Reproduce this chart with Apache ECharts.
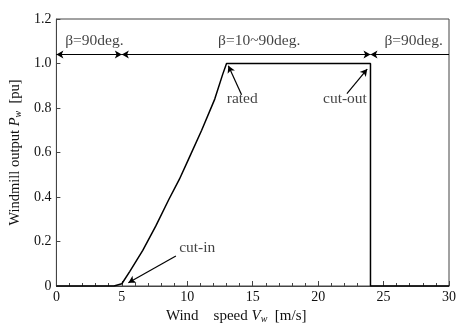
<!DOCTYPE html>
<html>
<head>
<meta charset="utf-8">
<script src="https://cdn.jsdelivr.net/npm/echarts@6/dist/echarts.min.js"></script>
<style>
  html, body { margin: 0; padding: 0; background: #fff; }
  #main { width: 459px; height: 329px; }
</style>
</head>
<body>
<div id="main"></div>
<script>
// power curve of the windmill (wind speed m/s -> output pu)
var windSpeed = [0, 4.4, 5.0, 5.6, 6.6, 7.6, 8.6, 9.4, 10.1, 11.1, 12.1, 12.7, 13.0, 24.0, 24.0, 30];
var powerOut  = [0, 0,   0.01, 0.065, 0.16, 0.27, 0.39, 0.48, 0.57, 0.70, 0.84, 0.95, 1.0, 1.0, 0, 0];

var xTicks = ['0', '5', '10', '15', '20', '25', '30'];
var yTicks = ['0', '0.2', '0.4', '0.6', '0.8', '1.0', '1.2'];

// pitch angle ranges along the top line
var betaLevel = 1.04;
var betaBounds = [0, 5, 24, 30];
var betaNames = ['β=90deg.', 'β=10~90deg.', 'β=90deg.'];
var betaLabelX = [2.9, 15.5, 27.3];
var betaLabelY = 1.1;

// annotations: text spot, arrow tail, arrow tip
var noteNames = ['rated', 'cut-out', 'cut-in'];
var noteText  = [[14.2, 0.84], [22.05, 0.84], [10.76, 0.171]];
var noteTail  = [[14.15, 0.86], [22.2, 0.865], [9.13, 0.135]];
var noteTip   = [[13.14, 0.99], [23.75, 0.975], [5.5, 0.015]];

var font = 'Liberation Serif';

var curveData = [];
for (var i = 0; i < windSpeed.length; i++) {
  curveData.push([windSpeed[i], powerOut[i]]);
}

var arrowLines = [];
for (var i = 0; i < noteNames.length; i++) {
  arrowLines.push([{ coord: noteTail[i], symbol: 'none' }, { coord: noteTip[i], symbol: 'arrow' }]);
}
for (var i = 0; i < betaBounds.length - 1; i++) {
  var last = i == betaBounds.length - 2;
  arrowLines.push([
    { coord: [betaBounds[i], betaLevel], symbol: 'arrow' },
    { coord: [betaBounds[i + 1], betaLevel], symbol: last ? 'none' : 'arrow' }
  ]);
}

var textPoints = [];
for (var i = 0; i < noteNames.length; i++) {
  textPoints.push({ value: noteText[i], name: noteNames[i] });
}
for (var i = 0; i < betaNames.length; i++) {
  textPoints.push({ value: [betaLabelX[i], betaLabelY], name: betaNames[i] });
}

var chart = echarts.init(document.getElementById('main'), null, { renderer: 'canvas' });

var option = {
  animation: false,
  backgroundColor: '#fff',
  textStyle: { fontFamily: font, color: '#111' },
  grid: {
    left: 52, right: 8, top: 19, bottom: 43,
    show: true, borderColor: '#444', borderWidth: 1
  },
  xAxis: {
    type: 'value', min: 0, max: 30, interval: 5,
    name: 'Wind    speed {i|V}{s|w}  [m/s]',
    nameLocation: 'middle', nameGap: 17,
    nameTextStyle: {
      fontFamily: font, fontSize: 15, color: '#111',
      padding: [0, 33, 0, 0],
      rich: {
        i: { fontFamily: font, fontSize: 15, fontStyle: 'italic', color: '#111' },
        s: { fontFamily: font, fontSize: 10, fontStyle: 'italic', color: '#111', padding: [5, 0, 0, 0] }
      }
    },
    axisLine: { lineStyle: { color: '#444', width: 1 } },
    axisTick: { inside: true, length: 5, lineStyle: { color: '#444' } },
    minorTick: { show: true, splitNumber: 5, length: 3, lineStyle: { color: '#444' } },
    splitLine: { show: false },
    axisLabel: {
      fontFamily: font, fontSize: 14, color: '#111', margin: 4,
      formatter: function (v) { return xTicks[Math.round(v / 5)]; }
    }
  },
  yAxis: {
    type: 'value', min: 0, max: 1.2, interval: 0.2,
    name: 'Windmill output {i|P}{s|w}  [pu]',
    nameLocation: 'middle', nameGap: 27, nameRotate: 90,
    nameTextStyle: {
      fontFamily: font, fontSize: 14.5, color: '#111',
      rich: {
        i: { fontFamily: font, fontSize: 14.5, fontStyle: 'italic', color: '#111' },
        s: { fontFamily: font, fontSize: 10, fontStyle: 'italic', color: '#111', padding: [5, 0, 0, 0] }
      }
    },
    axisLine: { lineStyle: { color: '#444', width: 1 } },
    axisTick: { inside: true, length: 4, lineStyle: { color: '#444' } },
    splitLine: { show: false },
    axisLabel: {
      fontFamily: font, fontSize: 14, color: '#111', margin: 5,
      formatter: function (v) { return yTicks[Math.round(v / 0.2)]; }
    }
  },
  series: [
    {
      type: 'line',
      data: curveData,
      showSymbol: false,
      lineStyle: { color: '#000', width: 1.5 },
      z: 3,
      markLine: {
        silent: true,
        symbolSize: [6, 7],
        label: { show: false },
        lineStyle: { color: '#000', width: 1.2, type: 'solid' },
        emphasis: { disabled: true },
        data: arrowLines
      }
    },
    {
      type: 'scatter',
      symbolSize: 0,
      data: textPoints,
      silent: true,
      label: {
        show: true, position: 'inside',
        fontFamily: font, fontSize: 15.5, color: '#111',
        formatter: function (p) { return p.name; }
      }
    }
  ]
};

chart.setOption(option);
</script>
</body>
</html>
